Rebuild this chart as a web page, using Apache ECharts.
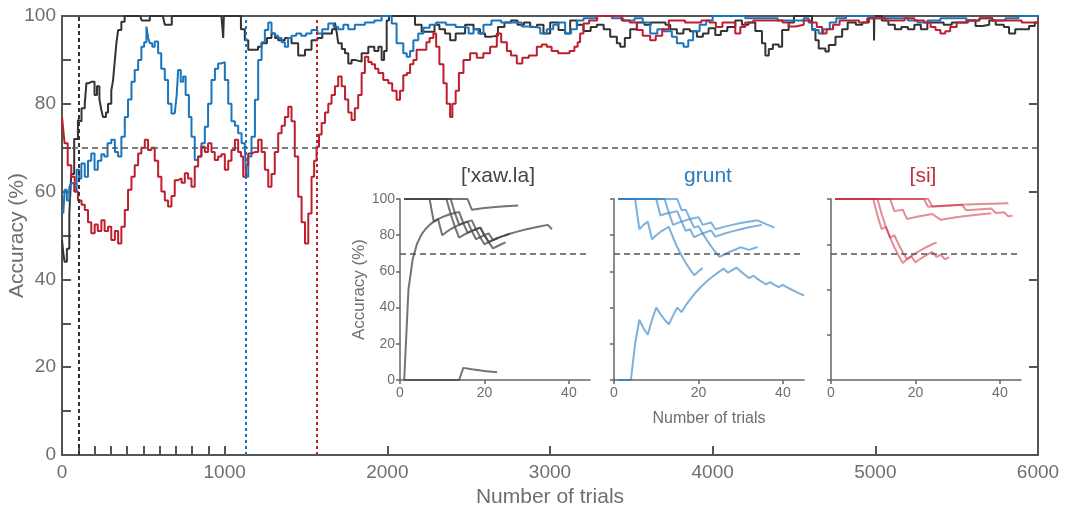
<!DOCTYPE html>
<html><head><meta charset="utf-8">
<script src="https://cdn.jsdelivr.net/npm/echarts@6/dist/echarts.min.js"></script>
<style>html,body{margin:0;padding:0;background:#fff}#c{width:1065px;height:509px}</style>
</head><body><div id="c"></div>
<script>
// ---------- main panel data ----------
const xTickValues = [0,100,200,300,400,500,600,700,800,900,1000,2000,3000,4000,5000,6000];
const xLabelValues = [0,1000,2000,3000,4000,5000,6000];
const yTickValues = [0,10,20,30,40,50,60,70,80,90,100];
const yLabelValues = [0,20,40,60,80,100];
const rightTickValues = [20,40,60,80];
const criterionLevel = 70;
const criterionTrials = [105, 1128, 1565]; // ['xaw.la], grunt, [si]

const blackSeries = [[0,49],[8,46],[16,44],[30,47],[45,55],[57,64],[75,72],[98,76.3],[109,76],[120,79],[140,80],[150,84.7],[165,85],[180,85],[200,82],[215,84],[230,81],[242,78.6],[252,77],[270,78],[283,80],[303,83],[314,85.4],[325,90],[335,94],[345,96.8],[365,98.7],[385,100],[480,100],[490,99],[520,99],[540,100],[620,100],[632,98],[660,98],[675,100],[980,100],[991,95],[995,100],[1080,100],[1100,97],[1124,94.5],[1145,92.3],[1183,92.3],[1205,93],[1227,93.8],[1260,95],[1288,96],[1310,95],[1329,94.5],[1370,95],[1411,93.8],[1452,91],[1494,92.3],[1534,94.5],[1570,95],[1600,96],[1637,96],[1660,97],[1678,98.5],[1690,96],[1698,93.8],[1720,92.5],[1740,91.5],[1760,89.2],[1780,90],[1800,89.6],[1842,91.5],[1883,93],[1920,92],[1945,93],[1965,90],[1980,92],[1996,99],[2010,100],[2140,100],[2170,98],[2211,96.4],[2250,96.4],[2290,98],[2320,97],[2355,96],[2386,94.5],[2420,96],[2478,98],[2530,97],[2570,96],[2601,95.3],[2640,95.5],[2680,97.5],[2720,98.5],[2760,99],[2800,98],[2840,98.5],[2878,97.5],[2920,98],[2960,96],[3001,98.5],[3052,96.8],[3093,96],[3124,99],[3165,98],[3206,96.6],[3250,97.5],[3288,98],[3330,97],[3370,95.3],[3411,93.8],[3432,93],[3460,95],[3493,97],[3534,98.5],[3580,98],[3620,98.5],[3678,98.5],[3710,98],[3739,97],[3780,96],[3820,97],[3860,96.5],[3903,95.3],[3940,96],[3975,97.2],[4016,95.7],[4050,96.6],[4090,97.5],[4139,99],[4180,98],[4220,98.5],[4262,96.6],[4303,93.8],[4324,91],[4345,92.5],[4370,93.5],[4406,93],[4427,96.8],[4467,98.5],[4500,100],[4590,100],[4611,97],[4632,94.5],[4652,92.6],[4693,91.9],[4714,93.4],[4755,95.3],[4796,97],[4830,98.5],[4880,98],[4920,98.5],[4960,99.5],[4991,100],[4992,94.4],[4994,100],[5040,99],[5080,98],[5120,97],[5160,97.5],[5200,97],[5240,98],[5280,97],[5320,98.5],[5380,98.5],[5420,98],[5470,98.5],[5520,98.5],[5570,99],[5616,97.7],[5660,98],[5700,99],[5740,98],[5790,97.5],[5822,96],[5860,97],[5900,97],[5945,97.7],[5980,98.5],[6000,98.5]];

const blueSeries = [[0,56],[8,55],[16,60.4],[30,58],[45,61],[57,61.9],[75,60],[90,65],[105,63],[119,66.4],[140,63.4],[160,67],[180,68.7],[200,65],[220,67],[242,68.5],[260,68],[280,71],[303,71.8],[325,69],[345,68],[365,72.5],[386,77],[406,81],[427,85],[447,87.7],[468,90],[488,93],[505,94],[519,97.6],[530,95],[540,93.8],[555,93],[570,94.2],[591,91.5],[610,88],[632,85.4],[652,80],[673,77.8],[693,78],[705,82],[714,87.7],[730,85],[745,86.2],[760,82],[780,77],[796,72.5],[816,67.2],[836,68],[857,71],[878,74.8],[898,80],[919,85.4],[940,88],[960,89.2],[980,89.5],[1001,85.4],[1022,80],[1042,76],[1063,75],[1083,73.3],[1104,71],[1124,70.2],[1132,63.4],[1145,68],[1165,72.5],[1186,80.9],[1206,90],[1227,94],[1247,96.8],[1268,98.5],[1288,96],[1310,95.5],[1329,95],[1350,94],[1370,93],[1390,95],[1411,95.5],[1440,96],[1470,95.5],[1500,96],[1534,96.8],[1570,96],[1600,97],[1637,98.3],[1670,97.5],[1698,97],[1730,98],[1760,97],[1800,98],[1862,98.5],[1920,99],[1965,100],[2027,98.3],[2057,93.8],[2098,91.5],[2119,90.7],[2140,92],[2160,94.5],[2190,96],[2222,97.3],[2260,98],[2300,98.5],[2360,98],[2420,97.5],[2468,97.3],[2500,96],[2530,97],[2560,96],[2591,98],[2640,99],[2700,98.5],[2760,98.5],[2827,97.6],[2878,97.3],[2940,96],[2980,97],[3020,98],[3052,98.5],[3093,96],[3130,97],[3165,99],[3206,99.5],[3288,100],[3380,99.5],[3450,99],[3520,99.5],[3570,98.5],[3616,96],[3660,97],[3700,96.5],[3749,95.3],[3780,93.8],[3821,93],[3850,94.5],[3880,96.5],[3920,98],[3960,99],[4000,100],[4100,100],[4200,99.5],[4300,99.5],[4400,99],[4500,99],[4560,99.5],[4590,98.5],[4611,96.8],[4652,96],[4680,97],[4720,98.5],[4760,99.5],[4820,100],[4900,100],[4990,99.5],[5050,99.5],[5150,99.5],[5200,99],[5260,98.5],[5320,99],[5400,99.5],[5480,99.5],[5560,99],[5640,99.5],[5720,99],[5800,99.5],[5880,100],[6000,100]];

const redSeries = [[0,77],[8,74],[16,71],[35,66],[57,63.4],[78,60],[98,58],[120,57],[140,55.8],[160,53],[180,50.5],[201,52.5],[220,51],[242,53.5],[262,51],[283,52],[303,49],[325,51],[345,48.2],[365,52],[386,55.8],[406,60.4],[427,63.4],[447,66],[468,68.7],[488,70],[509,71.8],[529,69.5],[550,70],[570,67],[591,63.4],[611,60],[632,58],[652,56.6],[673,59],[693,62.6],[714,63],[735,62],[755,64.2],[775,63],[796,61.1],[816,65.7],[837,68],[857,70.2],[878,69],[898,71],[919,69],[939,67.2],[960,68],[980,68.5],[1001,65],[1022,67],[1042,69.5],[1063,71.8],[1083,69],[1100,68],[1114,63.4],[1130,66],[1145,68.7],[1165,69],[1186,69],[1206,71.8],[1227,69],[1247,65],[1268,61.1],[1288,64],[1308,69],[1329,73.3],[1350,75],[1370,77],[1391,79.3],[1411,76],[1431,68],[1452,58.8],[1473,53],[1494,48.2],[1514,55],[1534,63.4],[1550,67],[1565,70.2],[1580,73],[1596,75.6],[1617,78],[1637,80],[1657,82],[1678,84],[1698,86.2],[1719,84],[1740,81],[1760,78],[1780,76.3],[1800,79],[1821,82],[1842,87],[1862,90.7],[1883,89.5],[1903,89],[1924,88],[1945,87],[1975,85.4],[2006,84.7],[2030,83],[2057,80.9],[2078,83],[2098,86.5],[2120,87],[2140,89],[2160,90],[2180,92.3],[2210,92.3],[2240,94],[2260,95],[2283,96],[2300,93],[2320,89],[2345,84.7],[2365,80],[2386,77],[2400,80],[2420,83],[2440,87],[2468,90],[2509,91.5],[2550,90.5],[2590,91.5],[2632,93],[2673,96],[2700,94],[2735,92],[2760,91],[2796,89.2],[2830,90.5],[2870,91],[2919,93],[2950,93.5],[2980,93],[3010,92],[3050,91.5],[3083,91.5],[3120,92],[3150,93],[3170,94],[3185,96],[3206,98.3],[3240,99],[3290,100],[3380,100],[3440,99],[3490,98.5],[3534,96.8],[3570,95.5],[3616,94.5],[3650,95.5],[3690,97],[3730,99],[3780,99],[3830,98.5],[3880,98.5],[3930,99],[3980,98.5],[4020,97.5],[4060,98.5],[4098,98.5],[4139,96],[4170,97.5],[4200,98.5],[4250,99],[4300,99],[4380,99],[4430,98.5],[4468,97.6],[4510,98],[4560,99],[4600,98.5],[4640,97.5],[4673,96],[4700,97],[4740,98],[4780,99],[4840,99],[4900,98.5],[4950,99.5],[5000,99.5],[5060,99],[5120,99],[5180,99.5],[5240,99],[5300,98.5],[5340,97.5],[5370,96.8],[5400,96],[5430,96.5],[5460,97.5],[5500,98.5],[5560,99],[5640,99.5],[5720,99],[5780,99],[5840,99],[5900,98.5],[5950,98.5],[6000,98.5]];

// ---------- inset data ----------
const insetTitles = ["['xaw.la]", "grunt", "[si]"];
const insetXTicks = [0,20,40];
const inset1YTicks = [0,20,40,60,80,100];
const inset2YTicks = [0,20,40,60,80,100];
const inset3YTicks = [0,25,50,75,100];

const xawlaRuns = [
  [[1,100],[16,100],[17,94.1],[20,95],[24,95.8],[28,96.4]],
  [[1,0],[2,50],[3,66.7],[4,75],[5,80],[6,83.3],[7,85.7],[8,87.5],[9,88.9],[10,90],[11,90.9],[12,91.7],[13,84.6],[14,85.7],[15,86.7],[16,81.3],[17,82.4],[18,83.3],[19,78.9],[20,75],[21,76.2],[22,77.3],[24,79.2],[26,80.8],[28,82.1],[30,83.3],[33,84.8],[35,85.7],[36,83.3]],
  [[1,100],[7,100],[8,87.5],[9,88.9],[10,80],[11,81.8],[12,83.3],[13,84.6],[14,78.6],[15,80],[16,81.3],[17,82.4],[18,77.8],[19,78.9],[20,80],[21,76.2],[22,77.3],[23,78.3],[24,79.2],[25,80],[26,80.8]],
  [[1,100],[11,100],[12,91.7],[13,92.3],[14,85.7],[15,86.7],[16,87.5],[17,82.4],[18,83.3],[19,84.2],[20,80],[21,76.2],[22,72.7],[23,73.9],[24,75],[25,76]],
  [[1,100],[12,100],[13,92.3],[14,92.9],[15,86.7],[16,87.5],[17,88.2],[18,83.3],[19,84.2],[20,80],[21,81],[22,77.3],[23,78.3]],
  [[1,0],[14,0],[15,6.7],[17,5.9],[20,5],[23,4.3]]
];
const gruntRuns = [
  [[1,100],[5,100],[6,83.3],[7,85.7],[8,87.5],[9,77.8],[10,80],[11,81.8],[12,83.3],[13,84.6],[14,78.6],[15,73.3],[16,68.8],[17,64.7],[18,61.1],[19,57.9],[20,60],[21,61.9]],
  [[1,100],[10,100],[11,90.9],[12,91.7],[13,92.3],[14,85.7],[15,86.7],[16,87.5],[17,82.4],[18,83.3],[19,78.9],[20,80],[21,81],[22,77.3],[23,73.9],[24,70.8],[25,68],[26,69.2],[28,71.4],[30,73.3],[32,71.9],[34,73.5]],
  [[1,100],[12,100],[13,92.3],[15,93.3],[16,87.5],[18,88.9],[19,84.2],[20,85],[21,81],[23,82.6],[24,79.2],[26,80.8],[28,82.1],[30,83.3],[32,84.4],[35,85.7]],
  [[1,100],[15,100],[16,93.8],[17,94.1],[18,88.9],[20,90],[21,85.7],[23,87],[24,83.3],[26,84.6],[28,85.7],[30,86.7],[34,88.2],[36,86.1],[38,84.2]],
  [[1,0],[4,0],[5,20],[6,33.3],[7,28.6],[8,25],[9,33.3],[10,40],[11,36.4],[12,33.3],[13,30.8],[14,35.7],[15,40],[16,37.5],[17,41.2],[18,44.4],[19,47.4],[20,50],[21,52.4],[22,54.5],[23,56.5],[24,58.3],[25,60],[26,61.5],[27,59.3],[28,60.7],[29,62.1],[30,60],[31,58.1],[32,56.3],[33,57.6],[34,55.9],[35,54.3],[36,52.8],[37,54.1],[38,52.6],[39,51.3],[40,52.5],[41,51.2],[42,50],[43,48.8],[44,47.7],[45,46.7]]
];
const siRuns = [
  [[1,100],[22,100],[23,95.7],[25,96],[28,96.4],[32,96.9],[36,97.2],[42,97.6]],
  [[1,100],[14,100],[15,93.3],[17,94.1],[18,88.9],[20,90],[24,91.7],[26,88.5],[30,90],[34,91.2],[38,92.1]],
  [[1,100],[23,100],[24,95.8],[31,96.8],[32,93.8],[38,94.7],[39,92.3],[41,92.7],[42,90.5],[43,90.7]],
  [[1,100],[10,100],[11,90.9],[12,83.3],[13,84.6],[14,78.6],[15,73.3],[16,68.8],[17,64.7],[18,66.7],[19,68.4],[20,70],[21,71.4],[22,72.7],[23,73.9],[24,75],[25,76]],
  [[1,100],[11,100],[12,91.7],[13,84.6],[14,78.6],[15,80],[16,75],[17,70.6],[18,66.7],[19,68.4],[20,65],[21,66.7],[22,68.2],[23,69.6],[24,70.8],[25,68],[26,69.2],[27,66.7],[28,67.9]]
];

// ---------- styling ----------
const FONT = 'Liberation Sans, Arial, Helvetica, sans-serif';
const TXT = '#6e6e6e';
const AX = '#555';
const C_BLACK = '#333333', C_BLUE = '#1b75bc', C_RED = '#be1e2d';
const INSET_COLORS = ['rgba(70,70,70,0.75)', 'rgba(40,125,195,0.6)', 'rgba(205,45,65,0.55)'];
const TITLE_COLORS = ['#444444', '#2b7bbf', '#c0303f'];
const plain = v => String(v);

const insetLeft = [400, 614, 831];
const insetYTicks = [inset1YTicks, inset2YTicks, inset3YTicks];
const insetRuns = [xawlaRuns, gruntRuns, siRuns];

const grids = [{left:62, top:16, width:976, height:439, containLabel:false, outerBoundsMode:'none'}];
insetLeft.forEach(l => grids.push({left:l, top:199, width:190, height:181, containLabel:false, outerBoundsMode:'none'}));

const xAxes = [
  {type:'value', gridIndex:0, min:0, max:6000, interval:1000,
   axisLine:{show:true, onZero:false, lineStyle:{color:AX, width:2}},
   axisTick:{show:true, inside:true, length:9, customValues:xTickValues, lineStyle:{color:AX, width:2}},
   axisLabel:{customValues:xLabelValues, formatter:plain, fontSize:19, color:TXT, margin:8, fontFamily:FONT},
   splitLine:{show:false},
   name:'Number of trials', nameLocation:'middle', nameGap:27,
   nameTextStyle:{fontSize:21, color:TXT, fontFamily:FONT}},
  {type:'value', gridIndex:0, min:0, max:6000, position:'top',
   axisLine:{show:true, onZero:false, lineStyle:{color:AX, width:2}},
   axisTick:{show:false}, axisLabel:{show:false}, splitLine:{show:false}}
];
const yAxes = [
  {type:'value', gridIndex:0, min:0, max:100, interval:20,
   axisLine:{show:true, onZero:false, lineStyle:{color:AX, width:2}},
   axisTick:{show:true, inside:true, length:9, customValues:yTickValues, lineStyle:{color:AX, width:2}},
   axisLabel:{customValues:yLabelValues, formatter:plain, fontSize:19, color:TXT, margin:6, fontFamily:FONT},
   splitLine:{show:false},
   name:'Accuracy (%)', nameLocation:'middle', nameGap:34, nameMoveOverlap:false,
   nameTextStyle:{fontSize:21, color:TXT, fontFamily:FONT}},
  {type:'value', gridIndex:0, min:0, max:100, position:'right',
   axisLine:{show:true, onZero:false, lineStyle:{color:AX, width:2}},
   axisTick:{show:true, inside:true, length:9, customValues:rightTickValues, lineStyle:{color:AX, width:2}},
   axisLabel:{show:false}, splitLine:{show:false}}
];
insetLeft.forEach((l, i) => {
  xAxes.push({type:'value', gridIndex:i+1, min:0, max:45,
    axisLine:{show:true, onZero:false, lineStyle:{color:'#666', width:1.5}},
    axisTick:{show:true, length:4, customValues:insetXTicks, lineStyle:{color:'#666', width:1.5}},
    axisLabel:{customValues:insetXTicks, formatter:plain, fontSize:14, color:TXT, margin:6, fontFamily:FONT},
    splitLine:{show:false},
    name: i === 1 ? 'Number of trials' : '', nameLocation:'middle', nameGap:31,
    nameTextStyle:{fontSize:16, color:TXT, fontFamily:FONT}});
  yAxes.push({type:'value', gridIndex:i+1, min:0, max:100,
    axisLine:{show:true, onZero:false, lineStyle:{color:'#666', width:1.5}},
    axisTick:{show:true, length:4, customValues:insetYTicks[i], lineStyle:{color:'#666', width:1.5}},
    axisLabel:{show: i === 0, customValues:insetYTicks[i], formatter:plain, fontSize:14, color:TXT, margin:5, fontFamily:FONT},
    splitLine:{show:false},
    name: i === 0 ? 'Accuracy (%)' : '', nameLocation:'middle', nameGap:32,
    nameTextStyle:{fontSize:17, color:TXT, fontFamily:FONT}});
});

const series = [];
const mainData = [blackSeries, blueSeries, redSeries];
const mainColors = [C_BLACK, C_BLUE, C_RED];
mainData.forEach((d, i) => {
  const ml = [{xAxis: criterionTrials[i], lineStyle:{color:mainColors[i], type: i===0 ? [4,3] : [3,3], width:2}}];
  if (i === 0) ml.push({yAxis: criterionLevel, lineStyle:{color:'#555', type:[6,4], width:1.5}});
  series.push({type:'line', xAxisIndex:0, yAxisIndex:0, data:d, step:'end', showSymbol:false, symbol:'none',
    lineStyle:{color:mainColors[i], width:2}, animation:false, z:3,
    markLine:{silent:true, symbol:'none', label:{show:false}, data:ml, animation:false}});
});
insetRuns.forEach((runs, k) => {
  runs.forEach((d, j) => {
    const s = {type:'line', xAxisIndex:k+2, yAxisIndex:k+2, data:d, showSymbol:false, symbol:'none',
      lineStyle:{color:INSET_COLORS[k], width:2}, animation:false, z:3};
    if (j === 0) s.markLine = {silent:true, symbol:'none', label:{show:false}, animation:false,
      data:[{yAxis: criterionLevel, lineStyle:{color:'#555', type:[6,4], width:1.5}}]};
    series.push(s);
  });
});

const titleX = [498, 708, 923];
const graphic = insetTitles.map((t, i) => ({type:'text', x:titleX[i], y:176,
  style:{text:t, fill:TITLE_COLORS[i], font:'21px ' + FONT, textAlign:'center', textVerticalAlign:'middle'}}));

const chart = echarts.init(document.getElementById('c'), null, {renderer:'canvas'});
chart.setOption({animation:false, backgroundColor:'#fff', grid:grids, xAxis:xAxes, yAxis:yAxes, series, graphic});
</script></body></html>
